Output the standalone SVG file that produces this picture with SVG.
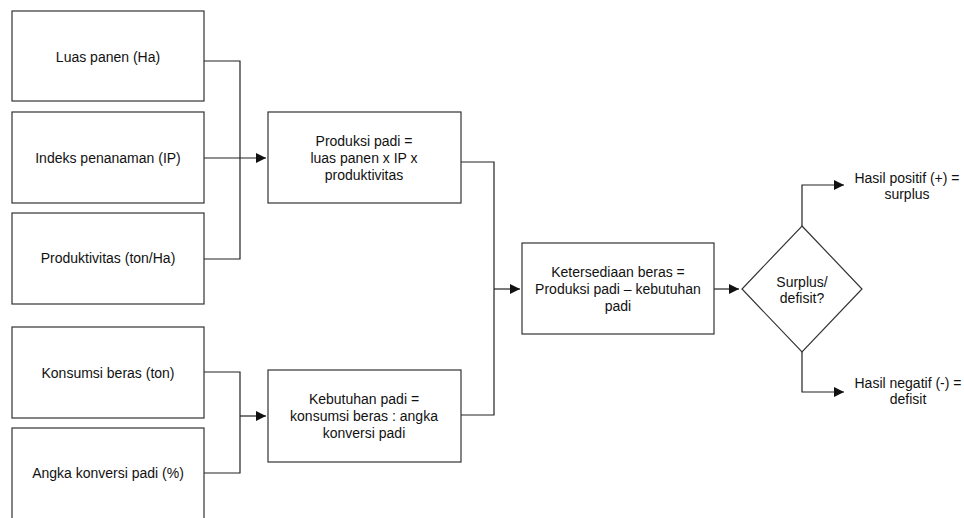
<svg xmlns="http://www.w3.org/2000/svg" width="964" height="518" viewBox="0 0 964 518">
<style>
.box{fill:#fff;stroke:#333;stroke-width:1.2}
.t{font-family:"Liberation Sans",Arial,sans-serif;font-size:14px;fill:#111;text-anchor:middle;dominant-baseline:central}
.c{fill:none;stroke:#222;stroke-width:1.2}
</style>
<defs>
<marker id="ah" viewBox="0 0 10 10" refX="10" refY="5" markerWidth="10" markerHeight="10" markerUnits="userSpaceOnUse" orient="auto">
<path d="M0,0 L10,5 L0,10 z" fill="#111"/>
</marker>
</defs>
<rect width="964" height="518" fill="#fff"/>
<g id="connectors">
<polyline class="c" points="204,61 240,61 240,259 204,259"/>
<line class="c" x1="204" y1="158" x2="266" y2="158" marker-end="url(#ah)"/>
<polyline class="c" points="204,372 240,372 240,473 204,473"/>
<line class="c" x1="240" y1="416" x2="266" y2="416" marker-end="url(#ah)"/>
<polyline class="c" points="461,162 494,162 494,415 461,415"/>
<line class="c" x1="494" y1="289" x2="520" y2="289" marker-end="url(#ah)"/>
<line class="c" x1="714" y1="289" x2="739" y2="289" marker-end="url(#ah)"/>
<polyline class="c" points="802,226 802,185 844,185" marker-end="url(#ah)"/>
<polyline class="c" points="802,352 802,392 844,392" marker-end="url(#ah)"/>
</g>
<g id="luas"><rect class="box" x="12" y="11" width="192" height="90"/><text class="t" x="108" y="57">Luas panen (Ha)</text></g>
<g id="indeks"><rect class="box" x="12" y="112" width="192" height="91"/><text class="t" x="108" y="158">Indeks penanaman (IP)</text></g>
<g id="produktivitas"><rect class="box" x="12" y="213" width="192" height="91"/><text class="t" x="108" y="258">Produktivitas (ton/Ha)</text></g>
<g id="konsumsi"><rect class="box" x="12" y="327" width="192" height="91"/><text class="t" x="108" y="373">Konsumsi beras (ton)</text></g>
<g id="angka"><rect class="box" x="12" y="428" width="192" height="100"/><text class="t" x="108" y="473">Angka konversi padi (%)</text></g>
<g id="produksi"><rect class="box" x="268" y="112" width="193" height="91"/>
<text class="t" x="364" y="141">Produksi padi =</text>
<text class="t" x="364" y="158">luas panen x IP x</text>
<text class="t" x="364" y="175">produktivitas</text></g>
<g id="kebutuhan"><rect class="box" x="268" y="370" width="193" height="92"/>
<text class="t" x="364" y="399">Kebutuhan padi =</text>
<text class="t" x="364" y="416">konsumsi beras : angka</text>
<text class="t" x="364" y="433">konversi padi</text></g>
<g id="ketersediaan"><rect class="box" x="522" y="243" width="192" height="91"/>
<text class="t" x="618" y="272">Ketersediaan beras =</text>
<text class="t" x="618" y="289">Produksi padi – kebutuhan</text>
<text class="t" x="618" y="306">padi</text></g>
<g id="decision"><polygon class="box" points="802,226 862,289 802,352 742,289"/>
<text class="t" x="802" y="282">Surplus/</text>
<text class="t" x="802" y="298">defisit?</text></g>
<g id="surplus"><text class="t" x="907" y="178">Hasil positif (+) =</text><text class="t" x="907" y="194">surplus</text></g>
<g id="defisit"><text class="t" x="908" y="383">Hasil negatif (-) =</text><text class="t" x="908" y="399">defisit</text></g>
</svg>
